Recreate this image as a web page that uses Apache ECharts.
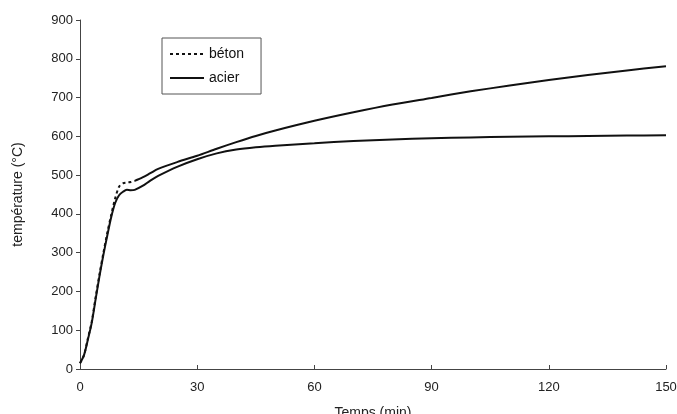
<!DOCTYPE html>
<html>
<head>
<meta charset="utf-8">
<script src="https://cdn.jsdelivr.net/npm/echarts@6/dist/echarts.min.js"></script>
<style>
    html, body { margin: 0; padding: 0; background: #fff; }
    #chart { width: 677px; height: 414px; }
</style>
</head>
<body>
<div id="chart"></div>
<script>
// temps (min)
var temps = [0, 1, 2, 3, 4, 5, 6, 7, 8, 9, 10, 11, 12, 13, 14, 16, 18, 20, 25, 30, 35, 40, 45, 50, 60, 70, 80, 90, 100, 110, 120, 130, 140, 150];
// température (°C)
var beton = [15, 35, 78, 122, 185, 245, 300, 352, 398, 440, 470, 479, 481, 482, 485, 494, 505, 516, 534, 550, 568, 585, 601, 615, 640, 662, 682, 699, 716, 731, 745, 758, 770, 781];
var acier = [15, 35, 75, 119, 180, 240, 295, 345, 392, 428, 448, 457, 462, 461, 462, 472, 486, 498, 522, 541, 556, 566, 572, 576, 582, 588, 592, 595, 597, 599, 600, 601, 602, 603];
var xTicks = [0, 30, 60, 90, 120, 150];
var yTicks = [0, 100, 200, 300, 400, 500, 600, 700, 800, 900];
// à partir d'ici la courbe béton se confond visuellement en trait plein
var finPointilles = 14;

(function () {
    var myChart = echarts.init(document.getElementById('chart'));

    var pts = function (arr, from, to) {
        var out = [];
        for (var i = 0; i < temps.length; i++) {
            if (temps[i] >= from && temps[i] <= to) out.push([temps[i], arr[i]]);
        }
        return out;
    };

    var option = {
        animation: false,
        textStyle: { fontFamily: 'Liberation Sans, Arial, sans-serif' },
        grid: { left: 80, right: 11, top: 20, bottom: 45, containLabel: false, outerBoundsMode: 'none' },
        legend: {
            data: ['béton', 'acier'],
            orient: 'vertical',
            left: 162,
            top: 38,
            itemWidth: 34,
            itemHeight: 10,
            itemGap: 10,
            padding: [9, 17, 9, 7],
            borderColor: '#555',
            borderWidth: 1,
            backgroundColor: '#fff',
            itemStyle: { opacity: 0 },
            textStyle: { color: '#111', fontSize: 14 }
        },
        xAxis: {
            type: 'value',
            min: xTicks[0],
            max: xTicks[xTicks.length - 1],
            interval: 30,
            name: 'Temps (min)',
            nameLocation: 'middle',
            nameGap: 37,
            nameTextStyle: { color: '#222', fontSize: 14 },
            axisLine: { lineStyle: { color: '#444', width: 1 } },
            axisTick: { inside: true, length: 4, lineStyle: { color: '#444' } },
            axisLabel: { color: '#222', fontSize: 13, margin: 12 },
            splitLine: { show: false }
        },
        yAxis: {
            type: 'value',
            min: yTicks[0],
            max: yTicks[yTicks.length - 1],
            interval: 100,
            name: 'température (°C)',
            nameLocation: 'middle',
            nameGap: 55,
            nameTextStyle: { color: '#222', fontSize: 14 },
            axisLine: { show: true, lineStyle: { color: '#444', width: 1 } },
            axisTick: { show: true, length: 4, lineStyle: { color: '#444' } },
            axisLabel: { color: '#222', fontSize: 13, margin: 7 },
            splitLine: { show: false }
        },
        series: [
            {
                name: 'béton',
                type: 'line',
                symbol: 'none',
                smooth: 0.3,
                data: pts(beton, 0, finPointilles),
                lineStyle: { color: '#111', width: 2, type: [3, 3] },
                itemStyle: { color: '#111' }
            },
            {
                name: 'béton (suite)',
                type: 'line',
                symbol: 'none',
                smooth: 0.3,
                data: pts(beton, finPointilles, 150),
                lineStyle: { color: '#111', width: 2 },
                itemStyle: { color: '#111' }
            },
            {
                name: 'acier',
                type: 'line',
                symbol: 'none',
                smooth: 0.3,
                data: pts(acier, 0, 150),
                lineStyle: { color: '#111', width: 2 },
                itemStyle: { color: '#111' }
            }
        ]
    };

    myChart.setOption(option);
})();
</script>
</body>
</html>
